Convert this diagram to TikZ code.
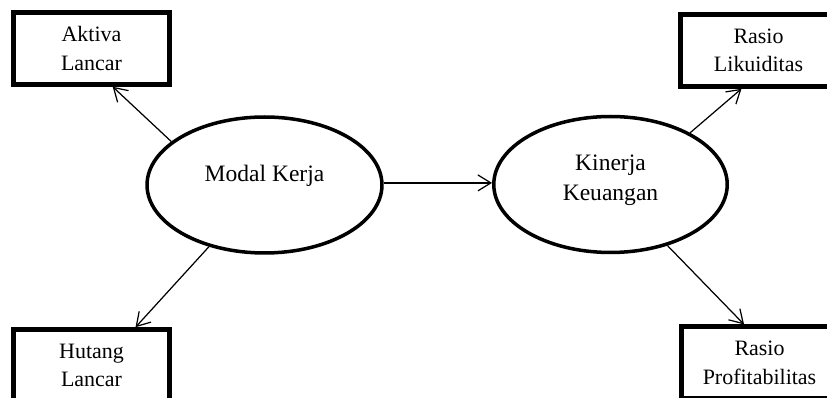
\documentclass[tikz,border=0pt]{standalone}
\usepackage{fontspec}
\setmainfont{Liberation Serif}
\usetikzlibrary{arrows.meta,shapes,positioning}

\begin{document}
\begin{tikzpicture}[x=0.02cm, y=0.02cm,
    kotak/.style={draw, line width=2.6pt, minimum width=3.12cm, minimum height=1.44cm, inner sep=0pt, align=center, font=\fontsize{12.5}{16.1}\selectfont},
    oval/.style={draw, ellipse, line width=2pt, minimum width=4.7cm, minimum height=2.72cm, inner sep=0pt},
    isi/.style={align=center, font=\fontsize{13.4}{17}\selectfont},
    panah/.style={-{Straight Barb[length=2.6mm, width=3.2mm]}, line width=0.7pt}]
    \useasboundingbox (0,0) rectangle (827,398);
    % indikator
    \node[kotak] (aktiva) at (91.5,349.5) {Aktiva\\Lancar};
    \node[kotak] (hutang) at (91.5,32.5) {Hutang\\Lancar};
    \node[kotak] (likuiditas) at (758.5,347.5) {Rasio\\Likuiditas};
    \node[kotak] (profit) at (759.5,35.3) {Rasio\\Profitabilitas};
    % variabel
    \node[oval, label={[isi, yshift=0.19cm]center:Modal Kerja}] (modal) at (264.5,213) {};
    \node[oval, minimum width=4.67cm, label={[isi, yshift=0.09cm]center:Kinerja\\Keuangan}] (kinerja) at (610.5,213.5) {};
    \draw[panah] (modal.155) -- (aktiva.-61);
    \draw[panah] (modal.-132) -- (hutang.41.5);
    \draw[panah] (modal.1.5) -- (modal.1.5 -| kinerja.west);
    \draw[panah] (kinerja.33.4) -- (likuiditas.-114);
    \draw[panah] (kinerja.-47.9) -- (profit.112);
\end{tikzpicture}
\end{document}
